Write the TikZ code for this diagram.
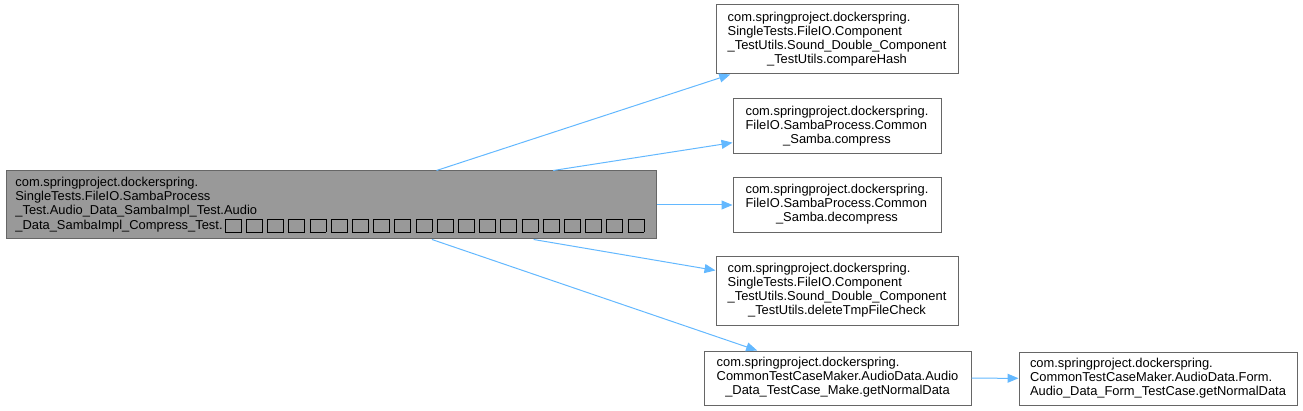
\documentclass[tikz,border=0pt]{standalone}
\usepackage{fontspec}
\setmainfont{Liberation Sans}
\usetikzlibrary{arrows.meta}
\definecolor{linkblue}{HTML}{63B8FF}
\definecolor{bordergray}{HTML}{666666}
\definecolor{mainfill}{HTML}{999999}
\newcommand{\tofu}{\kern2.2pt\begingroup\setlength{\fboxsep}{0pt}\setlength{\fboxrule}{0.9pt}\raisebox{-2.5pt}{\fbox{\rule{0pt}{12pt}\hspace{15pt}}}\endgroup\kern2.2pt}
\newcommand{\lastc}[1]{\multicolumn{1}{@{}c@{}}{#1}}
\tikzset{
  box/.style={draw=bordergray, line width=1pt, fill=white, inner sep=0pt,
    font=\fontsize{12.9}{14}\selectfont},
  link/.style={draw=linkblue, line width=1pt, -{Triangle[length=11pt,width=9pt]}}
}
\begin{document}
\begin{tikzpicture}[x=1pt,y=-1pt]
\useasboundingbox (0,0) rectangle (1303,411);
\node[box, fill=mainfill, minimum width=650pt, minimum height=68pt] (main) at (331,205)
 {\begin{tabular}{@{}l@{}}com.springproject.dockerspring.\\SingleTests.FileIO.SambaProcess\\\_Test.Audio\_Data\_SambaImpl\_Test.Audio\\\_Data\_SambaImpl\_Compress\_Test.\tofu\tofu\tofu\tofu\tofu\tofu\tofu\tofu\tofu\tofu\tofu\tofu\tofu\tofu\tofu\tofu\tofu\tofu\tofu\tofu\end{tabular}};
\node[box, minimum width=242pt, minimum height=69pt] (n1) at (837,39.5)
 {\begin{tabular}{@{}l@{}}com.springproject.dockerspring.\\SingleTests.FileIO.Component\\\_TestUtils.Sound\_Double\_Component\\\lastc{\_TestUtils.compareHash}\end{tabular}};
\node[box, minimum width=208pt, minimum height=55pt] (n2) at (837,126.5)
 {\begin{tabular}{@{}l@{}}com.springproject.dockerspring.\\FileIO.SambaProcess.Common\\\lastc{\_Samba.compress}\end{tabular}};
\node[box, minimum width=208pt, minimum height=55pt] (n3) at (837,205)
 {\begin{tabular}{@{}l@{}}com.springproject.dockerspring.\\FileIO.SambaProcess.Common\\\lastc{\_Samba.decompress}\end{tabular}};
\node[box, minimum width=242pt, minimum height=69pt] (n4) at (837,291)
 {\begin{tabular}{@{}l@{}}com.springproject.dockerspring.\\SingleTests.FileIO.Component\\\_TestUtils.Sound\_Double\_Component\\\lastc{\_TestUtils.deleteTmpFileCheck}\end{tabular}};
\node[box, minimum width=267pt, minimum height=54pt] (n5) at (837.5,378)
 {\begin{tabular}{@{}l@{}}com.springproject.dockerspring.\\CommonTestCaseMaker.AudioData.Audio\\\lastc{\_Data\_TestCase\_Make.getNormalData}\end{tabular}};
\node[box, minimum width=278pt, minimum height=53pt] (n6) at (1158,378.5)
 {\begin{tabular}{@{}l@{}}com.springproject.dockerspring.\\CommonTestCaseMaker.AudioData.Form.\\\lastc{Audio\_Data\_Form\_TestCase.getNormalData}\end{tabular}};
\draw[link] (main) -- (n1);
\draw[link] (main) -- (n2);
\draw[link] (main) -- (n3);
\draw[link] (main) -- (n4);
\draw[link] (main) -- (n5);
\draw[link] (n5) -- (n6);
\end{tikzpicture}
\end{document}
